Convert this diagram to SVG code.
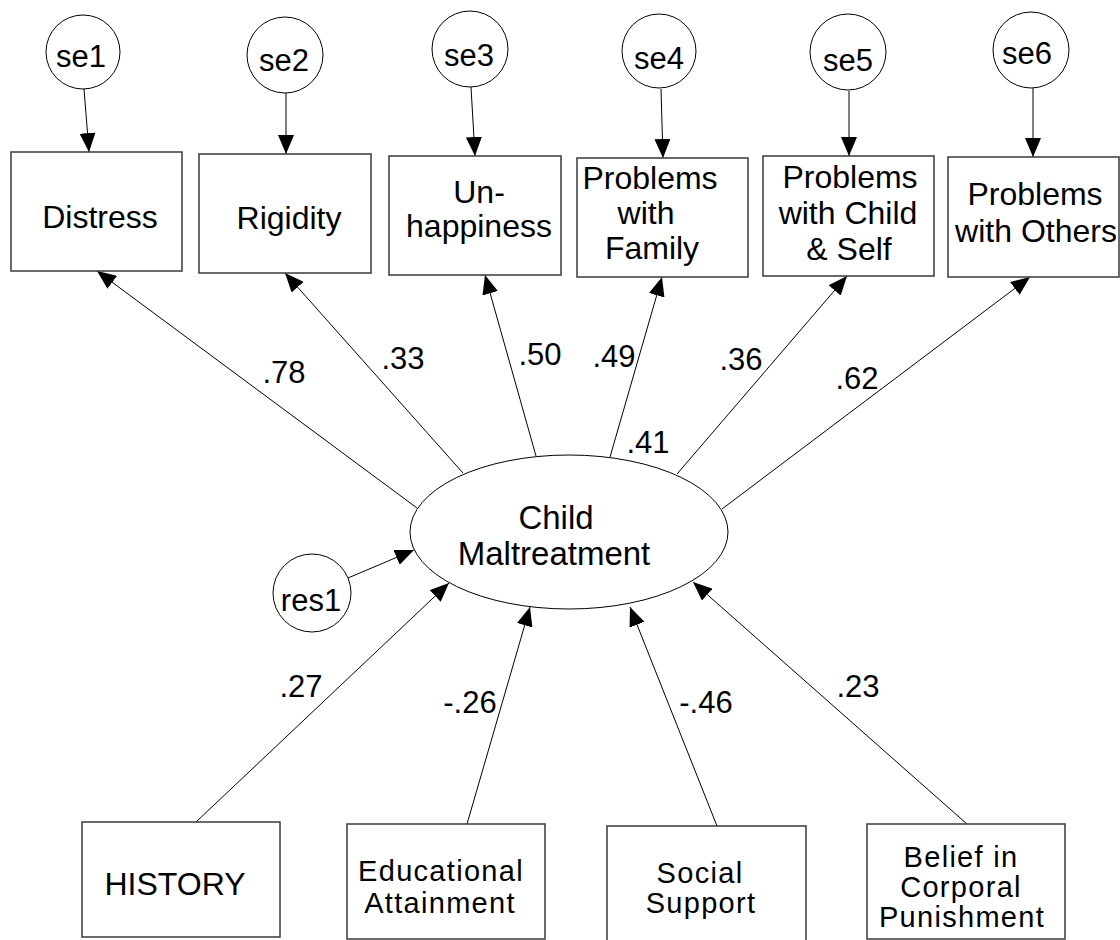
<svg xmlns="http://www.w3.org/2000/svg" width="1120" height="940" viewBox="0 0 1120 940">
  <style>
    .box { fill: #ffffff; stroke: #3a3a3a; stroke-width: 1.5; }
    .lat { fill: #ffffff; stroke: #000000; stroke-width: 1; }
    .t { font-family: "Liberation Sans", Arial, sans-serif; font-size: 32px; fill: #000000; text-anchor: middle; }
    .tb { font-family: "Liberation Sans", Arial, sans-serif; font-size: 29px; letter-spacing: 1.3px; fill: #000000; text-anchor: middle; }
    .e { font-family: "Liberation Sans", Arial, sans-serif; font-size: 31px; fill: #000000; text-anchor: middle; }
    .c { font-family: "Liberation Sans", Arial, sans-serif; font-size: 33px; fill: #000000; text-anchor: middle; }
    .lbl { font-family: "Liberation Sans", Arial, sans-serif; font-size: 31px; fill: #000000; text-anchor: middle; }
    .edge { stroke: #000000; stroke-width: 1; fill: none; marker-end: url(#head); }
  </style>
  <defs>
    <marker id="head" markerUnits="userSpaceOnUse" markerWidth="19" markerHeight="16" refX="19" refY="8" orient="auto">
      <path d="M0,0 L19,8 L0,16 Z" fill="#000000"/>
    </marker>
  </defs>
  <rect width="1120" height="940" fill="#ffffff"/>

  <!-- paths and loadings -->
  <g id="connectors">
    <line class="edge" x1="84" y1="89" x2="89" y2="152"/>
    <line class="edge" x1="286" y1="93" x2="286" y2="154"/>
    <line class="edge" x1="471" y1="87" x2="475" y2="156"/>
    <line class="edge" x1="661" y1="89" x2="663" y2="158"/>
    <line class="edge" x1="849" y1="91" x2="849" y2="156"/>
    <line class="edge" x1="1033" y1="88" x2="1033" y2="157"/>

    <line class="edge" x1="417" y1="508" x2="97" y2="271"/>
    <line class="edge" x1="463" y1="473" x2="285" y2="273"/>
    <line class="edge" x1="536" y1="456" x2="485" y2="275"/>
    <line class="edge" x1="610" y1="457" x2="662" y2="277"/>
    <line class="edge" x1="677" y1="474" x2="847" y2="276"/>
    <line class="edge" x1="722" y1="509" x2="1030" y2="277"/>

    <line class="edge" x1="348" y1="578" x2="414" y2="550"/>
    <line class="edge" x1="196" y1="822" x2="449" y2="583"/>
    <line class="edge" x1="467" y1="824" x2="530" y2="607"/>
    <line class="edge" x1="717" y1="826" x2="630" y2="607"/>
    <line class="edge" x1="967" y1="824" x2="693" y2="582"/>

    <text class="lbl" x="284" y="383">.78</text>
    <text class="lbl" x="403" y="369">.33</text>
    <text class="lbl" x="540" y="365">.50</text>
    <text class="lbl" x="614" y="367">.49</text>
    <text class="lbl" x="648" y="453">.41</text>
    <text class="lbl" x="741" y="370">.36</text>
    <text class="lbl" x="857" y="389">.62</text>
    <text class="lbl" x="301" y="697">.27</text>
    <text class="lbl" x="470" y="713">-.26</text>
    <text class="lbl" x="706" y="713">-.46</text>
    <text class="lbl" x="858" y="697">.23</text>
  </g>

  <!-- error terms -->
  <g id="se1"><circle class="lat" cx="83" cy="52" r="37"/><text class="e" x="81" y="67">se1</text></g>
  <g id="se2"><circle class="lat" cx="285" cy="55" r="38"/><text class="e" x="284" y="71">se2</text></g>
  <g id="se3"><circle class="lat" cx="470" cy="49" r="38"/><text class="e" x="469" y="66">se3</text></g>
  <g id="se4"><circle class="lat" cx="659" cy="51" r="37"/><text class="e" x="659" y="69">se4</text></g>
  <g id="se5"><circle class="lat" cx="848" cy="52" r="38"/><text class="e" x="848" y="71">se5</text></g>
  <g id="se6"><circle class="lat" cx="1031" cy="50" r="38"/><text class="e" x="1027" y="64">se6</text></g>
  <g id="res1"><circle class="lat" cx="312" cy="593" r="39"/><text class="e" x="311" y="611">res1</text></g>

  <!-- indicators -->
  <g id="distress"><rect class="box" x="11" y="152" width="171" height="119"/><text class="t" x="100" y="228">Distress</text></g>
  <g id="rigidity"><rect class="box" x="199" y="154" width="172" height="119"/><text class="t" x="289" y="229">Rigidity</text></g>
  <g id="unhappiness"><rect class="box" x="389" y="156" width="172" height="119"/>
    <text class="t" x="479" y="203">Un-</text><text class="t" x="479" y="237">happiness</text></g>
  <g id="family"><rect class="box" x="577" y="158" width="171" height="119"/>
    <text class="t" x="650" y="189">Problems</text><text class="t" x="646" y="224">with</text><text class="t" x="652" y="259">Family</text></g>
  <g id="childself"><rect class="box" x="763" y="156" width="171" height="120"/>
    <text class="t" x="850" y="188">Problems</text><text class="t" x="848" y="224">with Child</text><text class="t" x="849" y="260">&amp; Self</text></g>
  <g id="others"><rect class="box" x="948" y="157" width="171" height="120"/>
    <text class="t" x="1035" y="205">Problems</text><text class="t" x="1036" y="242">with Others</text></g>

  <!-- latent factor -->
  <g id="maltreatment"><ellipse class="lat" cx="569" cy="532" rx="159" ry="77"/>
    <text class="c" x="556" y="529">Child</text><text class="c" x="554" y="565">Maltreatment</text></g>

  <!-- predictors -->
  <g id="history"><rect class="box" x="82" y="822" width="198" height="115"/><text class="t" x="175" y="895">HISTORY</text></g>
  <g id="education"><rect class="box" x="347" y="824" width="198" height="115"/>
    <text class="tb" x="441" y="881">Educational</text><text class="tb" x="440" y="913">Attainment</text></g>
  <g id="support"><rect class="box" x="607" y="826" width="199" height="120"/>
    <text class="tb" x="700" y="883">Social</text><text class="tb" x="701" y="913">Support</text></g>
  <g id="belief"><rect class="box" x="867" y="824" width="198" height="115"/>
    <text class="tb" x="961" y="867">Belief in</text><text class="tb" x="961" y="897">Corporal</text><text class="tb" x="962" y="927">Punishment</text></g>
</svg>
